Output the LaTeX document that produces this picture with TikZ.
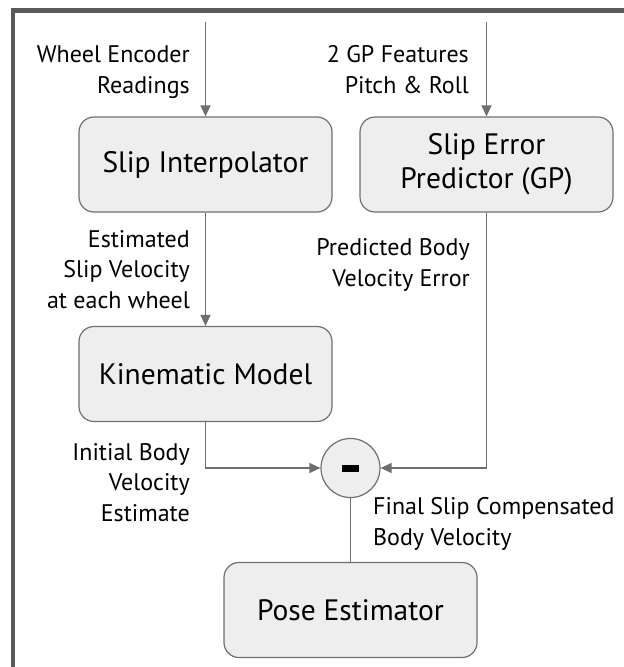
\documentclass[tikz,border=0pt]{standalone}
\usepackage{fontspec}
\setmainfont{PT Sans}
\usetikzlibrary{arrows.meta}
\definecolor{framec}{HTML}{5A5A5A}
\definecolor{linec}{HTML}{6E6E6E}
\definecolor{boxfill}{HTML}{EEEEEE}
\definecolor{boxdraw}{HTML}{707070}
\tikzset{
  blk/.style={draw=boxdraw, fill=boxfill, rounded corners=15pt, line width=1.2pt,
    minimum width=253pt, minimum height=95pt, align=center, inner sep=0pt,
    font=\fontsize{29.5}{34}\selectfont},
  lbl/.style={inner sep=0pt, font=\fontsize{24}{30.5}\selectfont},
  conn/.style={draw=linec, line width=1.3pt, -{Triangle[length=11pt,width=10pt]}},
  plainconn/.style={draw=linec, line width=1.3pt},
}
\begin{document}
\begin{tikzpicture}[x=1pt,y=-1pt]
\useasboundingbox (0,0) rectangle (624,667);
\draw[framec, line width=4.5pt] (13,667) -- (13,10.5) -- (624,10.5);
\node[blk] (si) at (205.5,164.5) {Slip Interpolator};
\node[blk] (gp) at (486.5,164.5) {Slip Error\\Predictor (GP)};
\node[blk] (km) at (205.5,374) {Kinematic Model};
\node[draw=boxdraw, fill=boxfill, line width=1.2pt, circle, minimum size=59pt, inner sep=0pt] (mn) at (350.5,468) {};
\fill (mn.center) ++(-8.5,-3.5) rectangle ++(17,7);
\node[blk] (pe) at (350.5,610) {Pose Estimator};
\coordinate (in1) at (205.5,22);
\coordinate (in2) at (486.5,22);
\draw[conn] (in1) -- (si);
\draw[conn] (in2) -- (gp);
\draw[conn] (si) -- (km);
\draw[conn] (km.south) |- (mn.west);
\draw[conn] (gp.south) |- (mn.east);
\draw[plainconn] (mn) -- (pe);
\node[lbl, anchor=base east, align=right] (l1) at (190,93) {Wheel Encoder\\Readings};
\node[lbl, anchor=base east, align=right] (l2) at (469,93) {2 GP Features\\Pitch \& Roll};
\node[lbl, anchor=base east, align=right] (l3) at (190,308) {Estimated\\Slip Velocity\\at each wheel};
\node[lbl, anchor=base east, align=right] (l4) at (470,286) {Predicted Body\\Velocity Error};
\node[lbl, anchor=base east, align=right] (l5) at (190,521) {Initial Body\\Velocity\\Estimate};
\node[lbl, anchor=base west, align=left] (l6) at (373,545) {Final Slip Compensated\\Body Velocity};
\end{tikzpicture}
\end{document}
